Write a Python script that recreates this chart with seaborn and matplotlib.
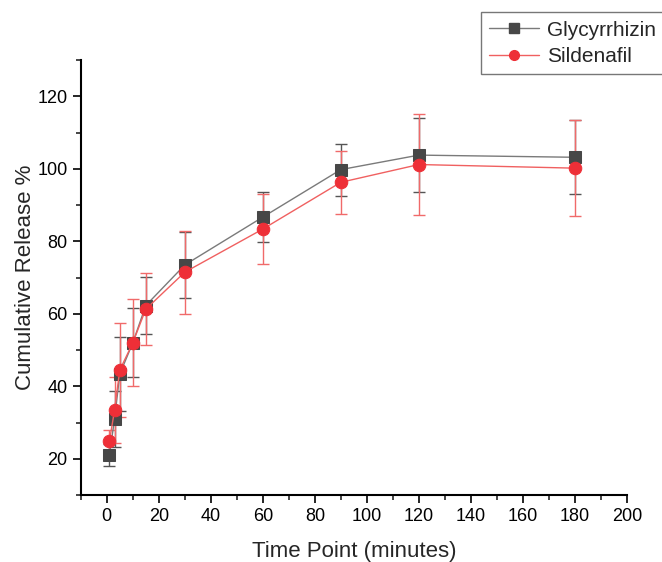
import pandas as pd
import seaborn as sns
import matplotlib.pyplot as plt
from matplotlib.ticker import MultipleLocator

# release data
time_points = [1, 3, 5, 10, 15, 30, 60, 90, 120, 180]
glycyrrhizin = [21.0, 31.0, 43.4, 52.0, 62.3, 73.5, 86.7, 99.8, 103.8, 103.2]
glycyrrhizin_err = [3.0, 7.7, 10.2, 9.5, 7.8, 9.0, 6.8, 7.2, 10.1, 10.2]
sildenafil = [24.8, 33.5, 44.5, 52.0, 61.3, 71.5, 83.4, 96.3, 101.2, 100.2]
sildenafil_err = [3.3, 9.0, 13.0, 12.0, 10.0, 11.5, 9.7, 8.7, 13.9, 13.2]

df = pd.DataFrame({
    'Time': time_points * 2,
    'Release': glycyrrhizin + sildenafil,
    'Err': glycyrrhizin_err + sildenafil_err,
    'Drug': ['Glycyrrhizin'] * len(time_points) + ['Sildenafil'] * len(time_points),
})

sns.set_style('ticks')
plt.rcParams['font.family'] = ['Liberation Sans', 'DejaVu Sans']

fig = plt.figure(figsize=(6.62, 5.62), dpi=100)
ax = fig.add_axes([0.122, 0.119, 0.825, 0.774])

styles = {
    'Glycyrrhizin': dict(line='#7a7a7a', mark='#474747', err='#555555', marker='s', ms=8),
    'Sildenafil': dict(line='#f06060', mark='#ee2f37', err='#f06a6a', marker='o', ms=9),
}

for drug, st in styles.items():
    sub = df[df['Drug'] == drug]
    ax.errorbar(sub['Time'], sub['Release'], yerr=sub['Err'], fmt='none',
                ecolor=st['err'], elinewidth=1, capsize=4, capthick=1, zorder=2)

sns.lineplot(data=df, x='Time', y='Release', hue='Drug', style='Drug',
             palette={'Glycyrrhizin': '#7a7a7a', 'Sildenafil': '#f06060'},
             markers={'Glycyrrhizin': 's', 'Sildenafil': 'o'}, dashes=False,
             linewidth=1, markersize=8, ax=ax, legend=False, zorder=3)

# recolour markers to solid fill
for line, (drug, st) in zip(ax.get_lines()[-2:], styles.items()):
    line.set_markerfacecolor(st['mark'])
    line.set_markeredgecolor(st['mark'])
    line.set_markersize(st['ms'])

handles = [plt.Line2D([], [], color=st['line'], marker=st['marker'], markersize=7,
                      markerfacecolor=st['mark'], markeredgecolor=st['mark'], linewidth=1)
           for st in styles.values()]
fig.legend(handles, list(styles.keys()), loc='upper left', bbox_to_anchor=(0.726, 0.978),
           fontsize=15, frameon=True, fancybox=False, edgecolor='#555555',
           handlelength=2.4, handletextpad=0.4, borderpad=0.4, labelspacing=0.35,
           borderaxespad=0)

ax.set_xlim(-10, 200)
ax.set_ylim(10, 130)
ax.xaxis.set_major_locator(MultipleLocator(20))
ax.xaxis.set_minor_locator(MultipleLocator(10))
ax.yaxis.set_major_locator(MultipleLocator(20))
ax.yaxis.set_minor_locator(MultipleLocator(10))
ax.set_xticks([t for t in range(0, 201, 20)])
ax.set_yticks([20, 40, 60, 80, 100, 120])
ax.tick_params(axis='both', which='major', direction='out', length=6, width=1.2,
               labelsize=13, colors='black')
ax.tick_params(axis='both', which='minor', direction='out', length=3.5, width=1.2)
for s in ['left', 'bottom']:
    ax.spines[s].set_linewidth(1.5)
    ax.spines[s].set_color('black')
sns.despine(ax=ax)

ax.set_xlabel('Time Point (minutes)', fontsize=16, labelpad=11)
ax.set_ylabel('Cumulative Release %', fontsize=16, labelpad=1)

fig.savefig('out.png', dpi=100)
